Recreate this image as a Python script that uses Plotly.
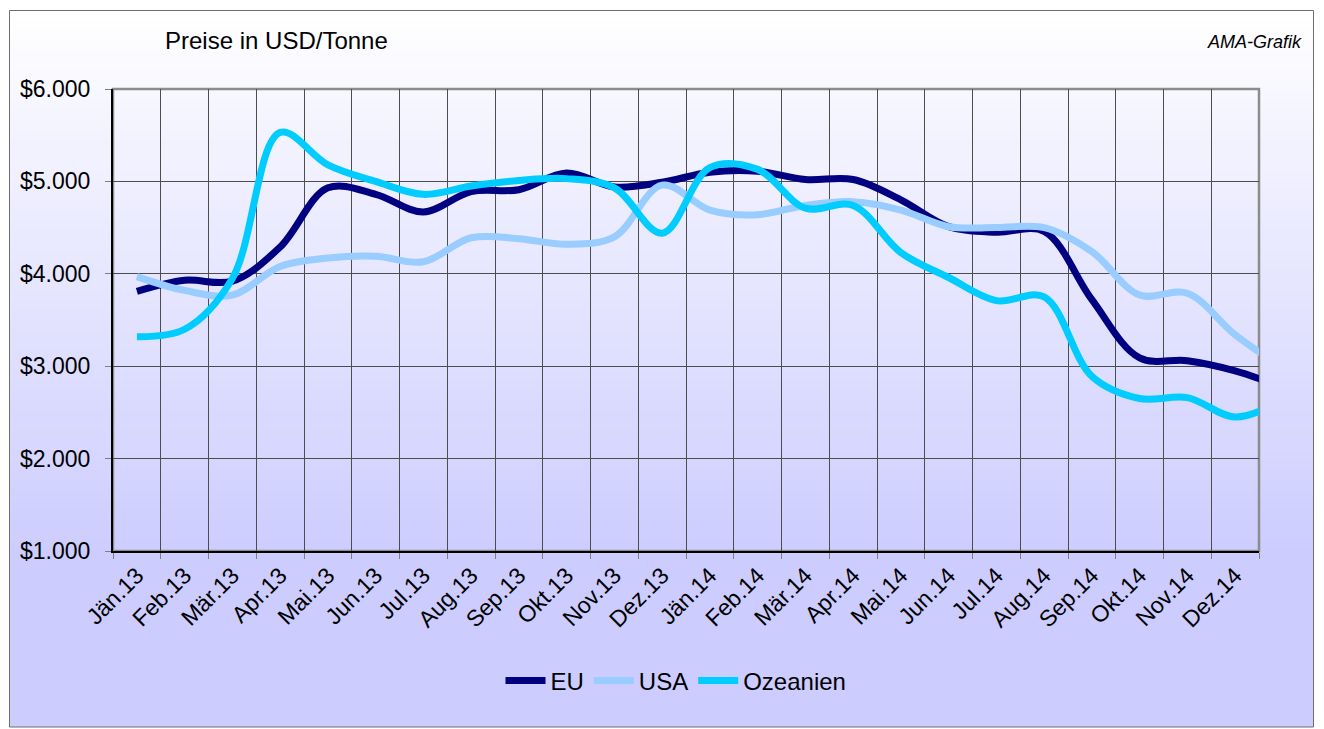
import plotly.graph_objects as go

# Monatskategorien (Jän.15 nur als Auslauf der Linien, ausserhalb des sichtbaren Bereichs)
months = ['Jän.13', 'Feb.13', 'Mär.13', 'Apr.13', 'Mai.13', 'Jun.13', 'Jul.13', 'Aug.13',
          'Sep.13', 'Okt.13', 'Nov.13', 'Dez.13', 'Jän.14', 'Feb.14', 'Mär.14', 'Apr.14',
          'Mai.14', 'Jun.14', 'Jul.14', 'Aug.14', 'Sep.14', 'Okt.14', 'Nov.14', 'Dez.14',
          'Jän.15']

# Preise in USD/Tonne
eu = [3810, 3930, 3920, 4290, 4930, 4860, 4670, 4890, 4910, 5090, 4940, 4990,
      5100, 5110, 5020, 5020, 4800, 4510, 4450, 4460, 3720, 3090, 3060, 2950, 2770]
usa = [3970, 3820, 3770, 4080, 4170, 4190, 4130, 4390, 4380, 4320, 4400, 4960,
       4690, 4640, 4740, 4780, 4690, 4510, 4500, 4500, 4240, 3770, 3790, 3340, 2980]
ozeanien = [3320, 3400, 3950, 5530, 5180, 5000, 4860, 4950, 5010, 5030, 4930, 4440,
            5150, 5130, 4710, 4740, 4230, 3960, 3710, 3750, 2890, 2650, 2660, 2450, 2630]

y_ticks = [1000, 2000, 3000, 4000, 5000, 6000]
y_tick_labels = ['$1.000', '$2.000', '$3.000', '$4.000', '$5.000', '$6.000']

# Seitengeometrie (die Seite hat 8px Rand, daher Versatz)
OFF = 8
W, H = 1324 - OFF, 729 - OFF
L, R, T, B = 113 - OFF, 65, 89 - OFF, 178
pw, ph = W - L - R, H - T - B
FONT = 'Liberation Sans, Arial, sans-serif'


def fx(px):
    # Pixel im Fenster -> paper-Koordinate
    return (px - OFF - L) / pw


def fy(py):
    return (H - B - (py - OFF)) / ph


fig = go.Figure()

series = [('EU', eu, '#000080'), ('USA', usa, '#99CCFF'), ('Ozeanien', ozeanien, '#00CCFF')]
for name, vals, col in series:
    fig.add_trace(go.Scatter(
        x=months, y=vals, name=name, mode='lines',
        line=dict(color=col, width=7, shape='spline', smoothing=1),
    ))

# Hintergrund: Verlauf weiss -> lavendel
shapes = []
top, bottom_grad, bottom = 10, 560, 727
steps = 55
for i in range(steps):
    y0 = top + (bottom_grad - top) * i / steps
    y1 = top + (bottom_grad - top) * (i + 1) / steps
    f = (i + 0.5) / steps
    c = int(round(255 - 51 * f))
    shapes.append(dict(type='rect', xref='paper', yref='paper', layer='below',
                       x0=fx(9), x1=fx(1314), y0=fy(y1 + 0.5), y1=fy(y0),
                       fillcolor=f'rgb({c},{c},255)', line=dict(width=0)))
shapes.append(dict(type='rect', xref='paper', yref='paper', layer='below',
                   x0=fx(9), x1=fx(1314), y0=fy(bottom), y1=fy(bottom_grad),
                   fillcolor='rgb(204,204,255)', line=dict(width=0)))
# Rahmen Diagrammfläche
shapes.append(dict(type='rect', xref='paper', yref='paper', layer='below',
                   x0=fx(9.5), x1=fx(1313.5), y0=fy(727), y1=fy(10.5),
                   fillcolor='rgba(0,0,0,0)', line=dict(color='#6e6e6e', width=1)))
# Rahmen Zeichnungsfläche
shapes.append(dict(type='rect', xref='paper', yref='paper', layer='below',
                   x0=0, x1=1, y0=0, y1=1,
                   fillcolor='rgba(0,0,0,0)', line=dict(color='#8c8c8c', width=2.5)))

fig.update_layout(
    width=W, height=H,
    margin=dict(l=L, r=R, t=T, b=B),
    paper_bgcolor='white',
    plot_bgcolor='rgba(0,0,0,0)',
    font=dict(family=FONT, size=23, color='black'),
    shapes=shapes,
    showlegend=True,
    legend=dict(orientation='h', x=fx(676), y=fy(681), xanchor='center', yanchor='middle',
                bgcolor='rgba(0,0,0,0)', font=dict(size=24), itemwidth=40,
                tracegroupgap=0),
    annotations=[
        dict(text='Preise in USD/Tonne', xref='paper', yref='paper',
             x=fx(163), y=fy(40), xanchor='left', yanchor='middle',
             showarrow=False, font=dict(size=24)),
        dict(text='<i>AMA-Grafik</i>', xref='paper', yref='paper',
             x=fx(1304), y=fy(42), xanchor='right', yanchor='middle',
             showarrow=False, font=dict(size=18)),
    ],
)

fig.update_xaxes(
    type='category', range=[-0.5, 23.5], tickson='boundaries',
    tickangle=-45, ticks='outside', ticklen=6, tickcolor='#808080',
    showgrid=True, gridcolor='#4d4d4d', gridwidth=1,
    showline=True, linecolor='black', linewidth=2,
    tickfont=dict(size=23), fixedrange=True, automargin=False,
)
fig.update_yaxes(
    range=[1000, 6000], tickvals=y_ticks, ticktext=y_tick_labels,
    ticks='outside', ticklen=6, tickcolor='#808080', ticklabelstandoff=10,
    showgrid=True, gridcolor='#4d4d4d', gridwidth=1, zeroline=False,
    showline=True, linecolor='black', linewidth=2,
    tickfont=dict(size=23), fixedrange=True, automargin=False,
)

fig.write_html("out.html")
